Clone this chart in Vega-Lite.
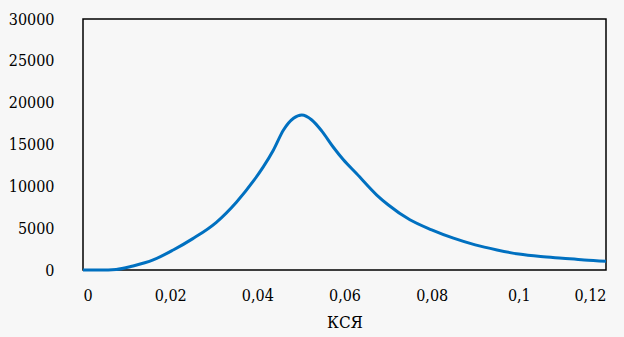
{
  "$schema": "https://vega.github.io/schema/vega-lite/v6.json",
  "autosize": "none",
  "width": 523,
  "height": 251,
  "padding": {"left": 83, "top": 19, "right": 18, "bottom": 67},
  "background": "#f7f7f7",
  "config": {
    "view": {"stroke": "#000000", "strokeWidth": 1.5},
    "font": "DejaVu Serif Condensed, DejaVu Serif"
  },
  "data": {
    "values": [
      {"x": 0, "y": 0},
      {"x": 0.004, "y": 0},
      {"x": 0.0076, "y": 60},
      {"x": 0.0115, "y": 480},
      {"x": 0.0161, "y": 1200},
      {"x": 0.0207, "y": 2390},
      {"x": 0.0252, "y": 3750},
      {"x": 0.0306, "y": 5700},
      {"x": 0.0352, "y": 8100},
      {"x": 0.0392, "y": 10700},
      {"x": 0.0414, "y": 12350},
      {"x": 0.0437, "y": 14340},
      {"x": 0.046, "y": 16730},
      {"x": 0.0483, "y": 18130},
      {"x": 0.0502, "y": 18520},
      {"x": 0.0525, "y": 17930},
      {"x": 0.0548, "y": 16600},
      {"x": 0.0574, "y": 14700},
      {"x": 0.0597, "y": 13200},
      {"x": 0.0628, "y": 11500},
      {"x": 0.0674, "y": 8960},
      {"x": 0.07, "y": 7800},
      {"x": 0.075, "y": 6000},
      {"x": 0.08, "y": 4800},
      {"x": 0.085, "y": 3800},
      {"x": 0.09, "y": 3000},
      {"x": 0.095, "y": 2400},
      {"x": 0.1, "y": 1900},
      {"x": 0.105, "y": 1600},
      {"x": 0.11, "y": 1400},
      {"x": 0.115, "y": 1200},
      {"x": 0.12, "y": 1050}
    ]
  },
  "mark": {"type": "line", "color": "#0070C0", "strokeWidth": 3, "interpolate": "monotone"},
  "encoding": {
    "x": {
      "field": "x",
      "type": "quantitative",
      "scale": {"domain": [0, 0.12], "nice": false, "zero": false},
      "axis": {
        "values": [0, 0.02, 0.04, 0.06, 0.08, 0.1, 0.12],
        "labelExpr": "replace(format(datum.value, '~g'), '.', ',')",
        "grid": false,
        "domain": false,
        "ticks": false,
        "labelPadding": 17,
        "labelFontSize": 16,
        "labelColor": "#000000",
        "title": "КСЯ",
        "titleFontSize": 17,
        "titleFontWeight": "normal",
        "titleColor": "#000000",
        "titlePadding": 11
      }
    },
    "y": {
      "field": "y",
      "type": "quantitative",
      "scale": {"domain": [0, 30000], "nice": false},
      "axis": {
        "values": [0, 5000, 10000, 15000, 20000, 25000, 30000],
        "format": "d",
        "grid": false,
        "domain": false,
        "ticks": false,
        "labelPadding": 29,
        "labelFontSize": 16,
        "labelColor": "#000000",
        "title": null
      }
    }
  }
}
